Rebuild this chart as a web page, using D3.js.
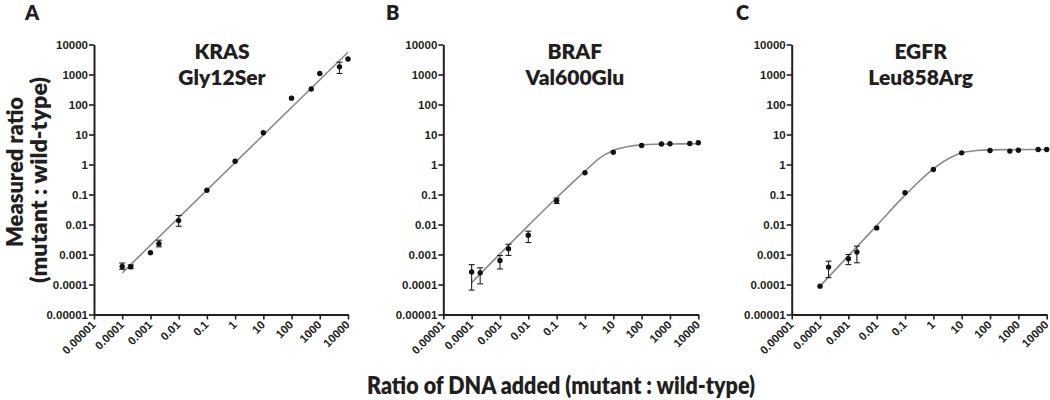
<!DOCTYPE html>
<html><head><meta charset="utf-8">
<script src="https://cdn.jsdelivr.net/npm/d3@7"></script>
<style>
html,body{margin:0;padding:0;background:#fff;}
svg{display:block;}
</style>
</head><body>
<svg id="chart" width="1050" height="400"></svg>
<script>
// ---------- data ----------
const tickValues = [1e-5, 1e-4, 1e-3, 1e-2, 1e-1, 1, 10, 100, 1000, 10000];
const tickLabels = ["0.00001","0.0001","0.001","0.01","0.1","1","10","100","1000","10000"];

const panelLetters = ["A", "B", "C"];
const geneNames = ["KRAS", "BRAF", "EGFR"];
const mutationNames = ["Gly12Ser", "Val600Glu", "Leu858Arg"];

const dnaAdded = [0.0001, 0.0002, 0.001, 0.002, 0.01, 0.1, 1, 10, 100, 500, 1000, 5000, 10000];

const krasMeasured = [0.0004, 0.00039, 0.00115, 0.0023, 0.0135, 0.138, 1.29, 11.4, 163, 330, 1080, 1800, 3300];
const krasErrLow  = [0.00032, 0.00034, null, 0.0018, 0.0087, null, null, null, null, null, null, 1080, null];
const krasErrHigh = [0.00052, 0.00045, null, 0.003, 0.02, null, null, null, null, null, null, 2570, null];

const brafMeasured = [0.00026, 0.000245, 0.00063, 0.00155, 0.0044, 0.062, 0.53, 2.57, 4.3, 4.8, 4.9, 5.0, 5.3];
const brafErrLow  = [0.000065, 0.000105, 0.00033, 0.00093, 0.0025, 0.05, null, null, null, null, null, null, null];
const brafErrHigh = [0.00046, 0.00036, 0.00093, 0.0022, 0.006, 0.076, null, null, null, null, null, null, null];

const egfrMeasured = [0.000088, 0.00038, 0.00072, 0.0012, 0.0077, 0.115, 0.68, 2.45, 2.93, 2.8, 3.0, 3.16, 3.16];
const egfrErrLow  = [null, 0.00017, 0.00046, 0.00053, null, null, null, null, null, null, null, null, null];
const egfrErrHigh = [null, 0.0006, 0.001, 0.0019, null, null, null, null, null, null, null, null, null];

// fitted curves
const krasFitX = [0.0001, 10000];
const krasFitY = [0.000245, 5500];
const brafFitX = [0.0001, 0.001, 0.01, 0.1, 1, 3.4, 10, 30, 100, 1000, 10000];
const brafFitY = [0.000115, 0.00105, 0.0092, 0.078, 0.6, 1.67, 2.93, 3.9, 4.5, 4.85, 4.9];
const egfrFitX = [0.0001, 0.001, 0.01, 0.1, 1, 3.9, 10, 34, 100, 1000, 10000];
const egfrFitY = [0.000088, 0.0009, 0.0092, 0.095, 0.72, 1.67, 2.45, 2.93, 3.08, 3.14, 3.16];

const yAxisTitle = ["Measured ratio", "(mutant : wild-type)"];
const xAxisTitle = "Ratio of DNA added (mutant : wild-type)";

// ---------- drawing ----------
const svg = d3.select("#chart");
const INK = "#231f20";
const FONT = "Lato, 'Open Sans', sans-serif";
const FW = 800;
const TICKFONT = "'Liberation Sans', Arial, sans-serif";

const panels = [
  {x0: 94,    x1: 348,    measured: krasMeasured, lo: krasErrLow, hi: krasErrHigh, fx: krasFitX, fy: krasFitY, letterX: 25,  tdx: 1},
  {x0: 443.3, x1: 698.3,  measured: brafMeasured, lo: brafErrLow, hi: brafErrHigh, fx: brafFitX, fy: brafFitY, letterX: 386, tdx: 4},
  {x0: 791.7, x1: 1046.7, measured: egfrMeasured, lo: egfrErrLow, hi: egfrErrHigh, fx: egfrFitX, fy: egfrFitY, letterX: 736, tdx: 1.5}
];
const yTop = 44.5, yBot = 314.5;

panels.forEach((p, pi) => {
  const x = d3.scaleLog().domain([1e-5, 1e4]).range([p.x0, p.x1]);
  const y = d3.scaleLog().domain([1e-5, 1e4]).range([yBot, yTop]);
  const g = svg.append("g");

  // panel letter
  g.append("text").attr("x", p.letterX).attr("y", 20)
    .attr("font-family", FONT).attr("font-weight", FW).attr("font-size", 20)
    .attr("fill", INK).text(panelLetters[pi]);

  // titles
  const cx = (p.x0 + p.x1) / 2 + p.tdx;
  g.append("text").attr("x", cx).attr("y", 59).attr("text-anchor", "middle")
    .attr("font-family", FONT).attr("font-weight", FW).attr("font-size", 21)
    .attr("fill", INK).text(geneNames[pi]);
  g.append("text").attr("x", cx).attr("y", 85).attr("text-anchor", "middle")
    .attr("font-family", FONT).attr("font-weight", FW).attr("font-size", 21)
    .attr("fill", INK).text(mutationNames[pi]);

  // axes
  const yAx = g.append("g").attr("transform", `translate(${p.x0},0)`)
    .call(d3.axisLeft(y).tickValues(tickValues).tickFormat((d, i) => tickLabels[i])
      .tickSize(5).tickSizeOuter(0).tickPadding(1));
  const xAx = g.append("g").attr("transform", `translate(0,${yBot})`)
    .call(d3.axisBottom(x).tickValues(tickValues).tickFormat((d, i) => tickLabels[i])
      .tickSize(5).tickSizeOuter(0));
  [yAx, xAx].forEach(a => {
    a.select(".domain").attr("stroke", INK).attr("stroke-width", 2);
    a.selectAll(".tick line").attr("stroke", INK).attr("stroke-width", 1.6);
    a.selectAll(".tick text").attr("fill", INK)
      .attr("font-family", TICKFONT).attr("font-weight", 700).attr("font-size", 11.5);
  });
  xAx.selectAll(".tick text")
    .attr("x", 0).attr("y", 0).attr("dy", 0)
    .attr("text-anchor", "end")
    .attr("transform", "translate(2,11) rotate(-45)");

  // fit curve
  const line = d3.line().x(d => x(d[0])).y(d => y(d[1])).curve(d3.curveMonotoneX);
  g.append("path").datum(p.fx.map((v, i) => [v, p.fy[i]]))
    .attr("d", line).attr("fill", "none").attr("stroke", "#8a8a8a").attr("stroke-width", 1.6);

  // error bars
  const eb = dnaAdded.map((v, i) => ({x: v, lo: p.lo[i], hi: p.hi[i]})).filter(d => d.lo != null);
  const ebg = g.append("g").attr("stroke", INK).attr("stroke-width", 1.1);
  eb.forEach(d => {
    const cxp = x(d.x);
    ebg.append("line").attr("x1", cxp).attr("x2", cxp).attr("y1", y(d.lo)).attr("y2", y(d.hi));
    ebg.append("line").attr("x1", cxp - 3).attr("x2", cxp + 3).attr("y1", y(d.lo)).attr("y2", y(d.lo));
    ebg.append("line").attr("x1", cxp - 3).attr("x2", cxp + 3).attr("y1", y(d.hi)).attr("y2", y(d.hi));
  });

  // points
  g.append("g").selectAll("circle").data(dnaAdded.map((v, i) => [v, p.measured[i]]))
    .join("circle").attr("cx", d => x(d[0])).attr("cy", d => y(d[1]))
    .attr("r", 2.7).attr("fill", "#111");
});

// y axis title
svg.append("text").attr("transform", "translate(23,172) rotate(-90)")
  .attr("text-anchor", "middle")
  .attr("font-family", FONT).attr("font-weight", FW).attr("font-size", 22.5)
  .attr("textLength", 150).attr("lengthAdjust", "spacingAndGlyphs")
  .attr("fill", INK).text(yAxisTitle[0]);
svg.append("text").attr("transform", "translate(47,180) rotate(-90)")
  .attr("text-anchor", "middle")
  .attr("font-family", FONT).attr("font-weight", FW).attr("font-size", 22.5)
  .attr("textLength", 206).attr("lengthAdjust", "spacingAndGlyphs")
  .attr("fill", INK).text(yAxisTitle[1]);

// x axis title
svg.append("text").attr("x", 561).attr("y", 394).attr("text-anchor", "middle")
  .attr("font-family", FONT).attr("font-weight", FW).attr("font-size", 24)
  .attr("textLength", 388).attr("lengthAdjust", "spacingAndGlyphs")
  .attr("fill", INK).text(xAxisTitle);
</script>
</body></html>
